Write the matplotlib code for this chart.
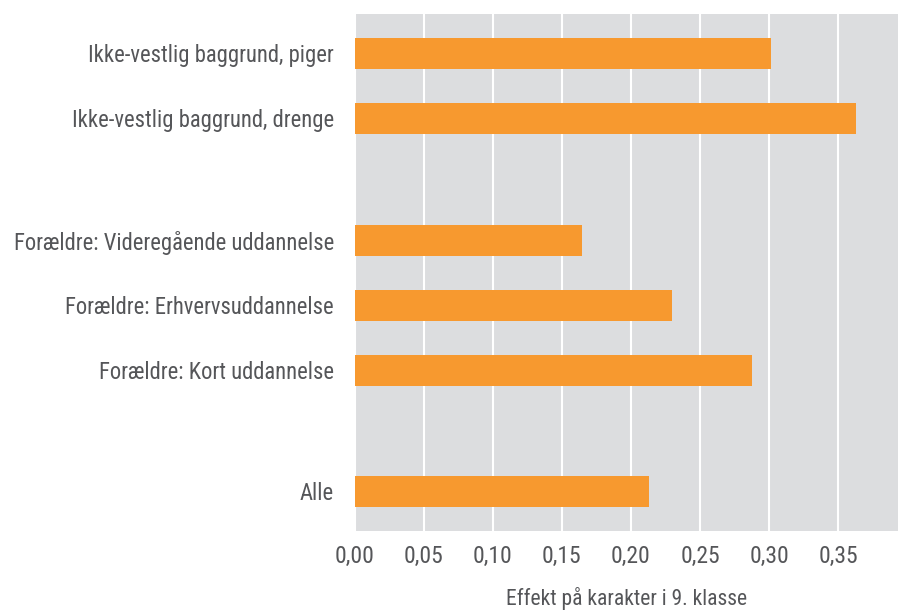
import matplotlib
matplotlib.use("Agg")
import matplotlib.pyplot as plt
from matplotlib import font_manager as fm
import numpy as np

categories = [
    "Ikke-vestlig baggrund, piger",
    "Ikke-vestlig baggrund, drenge",
    "Forældre: Videregående uddannelse",
    "Forældre: Erhvervsuddannelse",
    "Forældre: Kort uddannelse",
    "Alle",
]
values = [0.3015, 0.363, 0.1645, 0.2297, 0.2876, 0.2131]
xticks = [0.00, 0.05, 0.10, 0.15, 0.20, 0.25, 0.30, 0.35]
xtick_labels = ["0,00", "0,05", "0,10", "0,15", "0,20", "0,25", "0,30", "0,35"]
xlabel = "Effekt på karakter i 9. klasse"

# layout: group gaps
positions = [0, 1, 2.88, 3.88, 4.88, 6.74]

# font selection: prefer a condensed face
stretch = "normal"
family = "DejaVu Sans"
names = {f.name for f in fm.fontManager.ttflist}
for cand in ["Roboto Condensed", "Open Sans Condensed", "Liberation Sans Narrow", "Noto Sans Condensed"]:
    if cand in names:
        family = cand
        break
else:
    if any(f.name == "DejaVu Sans" and f.stretch == "condensed" for f in fm.fontManager.ttflist):
        stretch = "condensed"

plt.rcParams["font.family"] = [family, "DejaVu Sans"]
plt.rcParams["font.stretch"] = stretch

text_color = "#555659"
bar_color = "#F7992F"
bg_color = "#DCDDDF"

fig = plt.figure(figsize=(8.98, 6.13), dpi=100)
ax = fig.add_axes([354.7 / 898, 1 - 531 / 613, 1 - 354.7 / 898, (531 - 14) / 613])
ax.set_facecolor(bg_color)
ax.barh(positions, values, height=0.472, color=bar_color, zorder=3)
ax.set_ylim(positions[-1] + 0.61, positions[0] - 0.605)
ax.set_xlim(0, 0.3933)
ax.set_xticks(xticks)
ax.set_xticklabels(xtick_labels)
ax.set_yticks(positions)
ax.set_yticklabels(categories)
ax.grid(axis="x", color="white", linewidth=1.5, zorder=1)
ax.grid(axis="y", visible=False)
for s in ax.spines.values():
    s.set_visible(False)
ax.tick_params(axis="both", length=0, colors=text_color)
ax.tick_params(axis="y", pad=15, labelsize=16.3)
ax.tick_params(axis="x", pad=10, labelsize=17)
ax.set_xlabel(xlabel, color=text_color, fontsize=15.5, labelpad=14)

fig.savefig("out.png", dpi=100)
